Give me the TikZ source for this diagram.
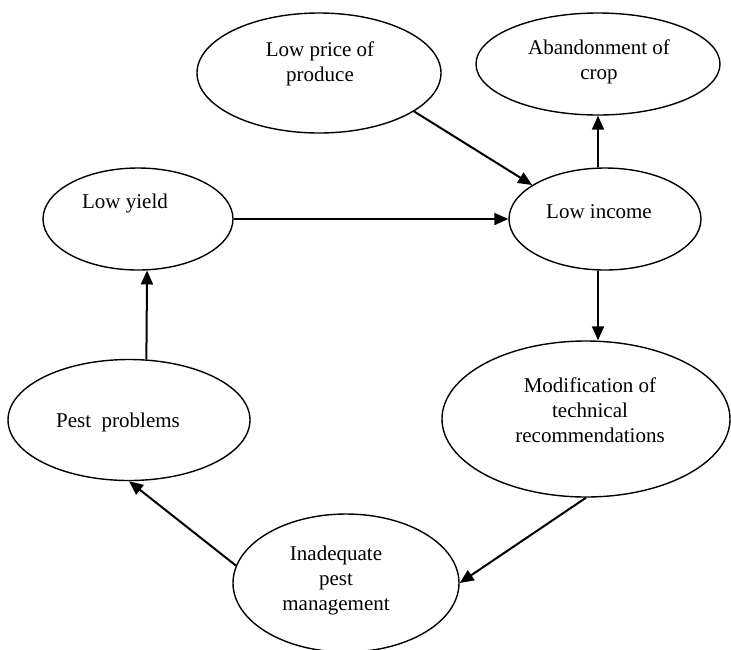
\documentclass[tikz,border=0pt]{standalone}
\usepackage{fontspec}
\setmainfont{Liberation Serif}
\usetikzlibrary{shapes.geometric,arrows.meta}
\begin{document}
\begin{tikzpicture}[x=1pt,y=-1pt,
  oval/.style={draw,ellipse,inner sep=0pt,line width=1.4pt},
  txt/.style={align=center,inner sep=0pt,font=\fontsize{21}{25}\selectfont},
  arr/.style={line width=2pt,-{Triangle[length=14pt,width=12pt]}}]
\useasboundingbox (0,0) rectangle (731,649);
% ellipses
\node[oval,minimum width=244pt,minimum height=120pt] (lowprice) at (319,73) {};
\node[oval,minimum width=244pt,minimum height=102pt] (abandon) at (598,64) {};
\node[oval,minimum width=190pt,minimum height=102pt] (lowyield) at (138,219) {};
\node[oval,minimum width=192pt,minimum height=102pt] (lowincome) at (605,219) {};
\node[oval,minimum width=242pt,minimum height=121pt] (pest) at (129,420) {};
\node[oval,minimum width=288pt,minimum height=156pt] (modif) at (586,419) {};
\node[oval,minimum width=226pt,minimum height=138pt] (inadeq) at (346,583) {};
% texts
\node[txt] (lowpricetxt) at (320,64) {Low price of\\produce};
\node[txt] (abandontxt) at (599,62) {Abandonment of\\crop};
\node[txt] (lowyieldtxt) at (125,203) {Low yield};
\node[txt] (lowincometxt) at (599,212) {Low income};
\node[txt] (pesttxt) at (118,422) {Pest\ \ problems};
\node[txt] (modiftxt) at (590,410) {Modification of\\technical\\recommendations};
\node[txt] (inadeqtxt) at (336,580) {Inadequate\\pest\\management};
% connectors
\draw[arr] (lowprice.-22) -- (lowincome.155);
\draw[arr] (lowincome.north -| abandon.south) -- (abandon.south);
\draw[arr] (lowyield.east) -- (lowincome.west);
\draw[arr] (lowincome.south -| abandon.south) -- (modif.north -| abandon.south);
\draw[arr] (modif.south) -- (inadeq.east);
\draw[arr] (inadeq.171) -- (pest.south);
\draw[arr] (pest.74) -- (lowyield.-80);
\end{tikzpicture}
\end{document}
